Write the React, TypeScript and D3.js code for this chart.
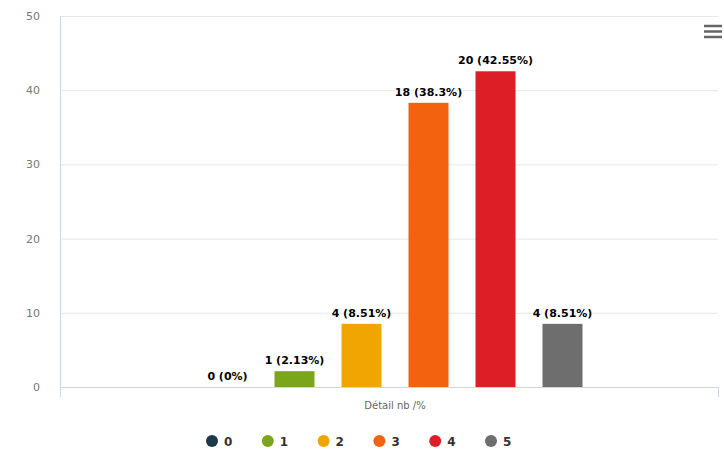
import React, { useEffect, useRef } from 'react';
import * as d3 from 'd3';

const categories = ['Détail nb /%'];
const seriesNames = ['0', '1', '2', '3', '4', '5'];
const counts = [0, 1, 4, 18, 20, 4];
const percents = [0, 2.13, 8.51, 38.3, 42.55, 8.51];
const colors = ['#1c3a4a', '#7ba61c', '#f0a500', '#f2620f', '#dc1f26', '#6e6e6e'];
const yTicks = [0, 10, 20, 30, 40, 50];

const App = () => {
  const ref = useRef<SVGSVGElement>(null);

  useEffect(() => {
    drawChart();
  }, []); // eslint-disable-line react-hooks/exhaustive-deps

  const drawChart = () => {
    const svg = d3.select(ref.current);
    svg.selectAll('*').remove();

    const left = 60;
    const right = 730;
    const gridRight = 718;
    const top = 16;
    const bottom = 387;

    const x = d3.scaleBand().domain(categories).range([left, right]);
    const xs = d3
      .scaleBand()
      .domain(seriesNames)
      .range([0, x.bandwidth()])
      .paddingOuter(2);
    const y = d3.scaleLinear().domain([0, 50]).range([bottom, top]);
    const barW = 40;

    // grid
    svg
      .append('g')
      .selectAll('line')
      .data(yTicks)
      .enter()
      .append('line')
      .attr('x1', left)
      .attr('x2', gridRight)
      .attr('y1', (d) => y(d) + 0.5)
      .attr('y2', (d) => y(d) + 0.5)
      .attr('stroke', '#e6e6e6');

    // y labels
    svg
      .append('g')
      .selectAll('text')
      .data(yTicks)
      .enter()
      .append('text')
      .attr('x', 40)
      .attr('y', (d) => y(d) + 4)
      .attr('text-anchor', 'end')
      .attr('font-size', 11)
      .attr('fill', '#777')
      .text((d) => d);

    // y axis line
    svg
      .append('line')
      .attr('x1', left + 0.5)
      .attr('x2', left + 0.5)
      .attr('y1', top)
      .attr('y2', bottom)
      .attr('stroke', '#ccd6eb');

    // x axis line + ticks
    svg
      .append('line')
      .attr('x1', left)
      .attr('x2', gridRight)
      .attr('y1', bottom + 0.5)
      .attr('y2', bottom + 0.5)
      .attr('stroke', '#ccd6eb');
    svg
      .append('g')
      .selectAll('line')
      .data([left, gridRight])
      .enter()
      .append('line')
      .attr('x1', (d) => d + 0.5)
      .attr('x2', (d) => d + 0.5)
      .attr('y1', bottom)
      .attr('y2', bottom + 10)
      .attr('stroke', '#ccd6eb');

    // category label
    svg
      .append('g')
      .selectAll('text')
      .data(categories)
      .enter()
      .append('text')
      .attr('x', (d) => (x(d) as number) + x.bandwidth() / 2)
      .attr('y', 409)
      .attr('text-anchor', 'middle')
      .attr('font-size', 10)
      .attr('fill', '#666')
      .text((d) => d);

    const cx = (i: number) =>
      (x(categories[0]) as number) + (xs(seriesNames[i]) as number) + xs.bandwidth() / 2;

    // bars
    svg
      .append('g')
      .selectAll('rect')
      .data(percents)
      .enter()
      .append('rect')
      .attr('x', (d, i) => cx(i) - barW / 2)
      .attr('y', (d) => y(d))
      .attr('width', barW)
      .attr('height', (d) => bottom - y(d))
      .attr('fill', (d, i) => colors[i]);

    // data labels
    svg
      .append('g')
      .selectAll('text')
      .data(percents)
      .enter()
      .append('text')
      .attr('x', (d, i) => cx(i))
      .attr('y', (d) => y(d) - 7)
      .attr('text-anchor', 'middle')
      .attr('font-size', 11)
      .attr('font-weight', 'bold')
      .attr('fill', '#000')
      .attr('stroke', '#fff')
      .attr('stroke-width', 2)
      .attr('paint-order', 'stroke')
      .text((d, i) => `${counts[i]} (${d}%)`);

    // legend
    const lx = d3.scaleLinear().domain([0, seriesNames.length - 1]).range([212, 491]);
    const legend = svg
      .append('g')
      .selectAll('g')
      .data(seriesNames)
      .enter()
      .append('g')
      .attr('transform', (d, i) => `translate(${lx(i)}, 441)`);
    legend
      .append('circle')
      .attr('r', 6)
      .attr('fill', (d, i) => colors[i]);
    legend
      .append('text')
      .attr('x', 12)
      .attr('y', 4.5)
      .attr('font-size', 12)
      .attr('font-weight', 'bold')
      .attr('fill', '#333')
      .text((d) => d);

    // menu icon
    svg
      .append('g')
      .selectAll('line')
      .data([0, 1, 2])
      .enter()
      .append('line')
      .attr('x1', 704)
      .attr('x2', 722)
      .attr('y1', (d) => 26 + d * 5.5)
      .attr('y2', (d) => 26 + d * 5.5)
      .attr('stroke', '#666')
      .attr('stroke-width', 2.5);
  };

  return (
    <svg
      ref={ref}
      width="724"
      height="450"
      style={{ position: 'absolute', left: 0, top: 0, fontFamily: '"DejaVu Sans", Verdana, sans-serif' }}
    ></svg>
  );
};

export default App;
